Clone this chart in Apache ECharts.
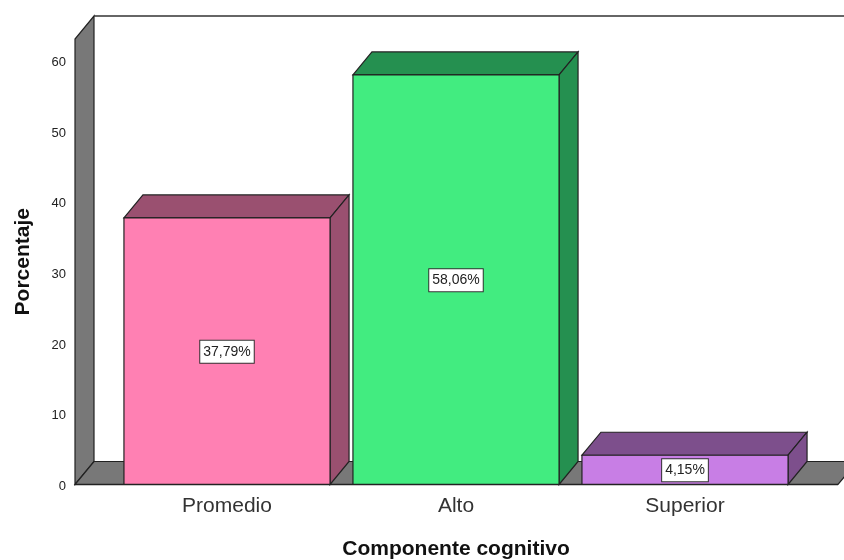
<!DOCTYPE html>
<html>
<head>
<meta charset="utf-8">
<style>html,body{margin:0;padding:0;background:#fff}#c{width:844px;height:560px}</style>
<script src="https://cdn.jsdelivr.net/npm/echarts@6/dist/echarts.min.js"></script>
</head>
<body>
<div id="c"></div>
<script>
const categories = ['Promedio', 'Alto', 'Superior'];
const values = [37.79, 58.06, 4.15];
const labels = ['37,79%', '58,06%', '4,15%'];
const frontColors = ['#ff80b3', '#42ec80', '#c87ee5'];
const shadeColors = ['#9a5070', '#259050', '#7d4f8c'];
const yTicks = { min: 0, max: 63.16, interval: 10 };
const xAxisTitle = 'Componente cognitivo';
const yAxisTitle = 'Porcentaje';

const DX = 19, DY = 23, LEFT_PAD = 37.5, RIGHT_END = 838;
const FONT = '"Liberation Sans", Arial, sans-serif';
const EDGE = '#222';

function poly(points, fill, z2) {
  return { type: 'polygon', z2: z2 || 0, shape: { points: points },
    style: { fill: fill, stroke: EDGE, lineWidth: 1.2 } };
}
function line(x1, y1, x2, y2, stroke, w) {
  return { type: 'line', shape: { x1, y1, x2, y2 }, style: { stroke: stroke || EDGE, lineWidth: w || 1.5 } };
}

function renderBackground(params, api) {
  const cs = params.coordSys;
  const x0 = cs.x - LEFT_PAD, yBase = cs.y + cs.height, yTop = cs.y;
  return { type: 'group', children: [
    poly([[x0, yBase], [x0 + DX, yBase - DY], [x0 + DX, yTop - DY], [x0, yTop]], '#787878'),
    poly([[x0, yBase], [x0 + DX, yBase - DY], [RIGHT_END + DX, yBase - DY], [RIGHT_END, yBase]], '#787878'),
    line(x0 + DX, yTop - DY, 860, yTop - DY, '#333', 1.6)
  ]};
}

function renderBar(params, api) {
  const i = api.value(0), v = api.value(1);
  const c = api.coord([i, v]), c0 = api.coord([i, 0]);
  const w = api.size([1, 0])[0] * 0.9;
  const l = c[0] - w / 2, r = c[0] + w / 2, t = c[1], b = c0[1];
  const mid = api.coord([i, v / 2]);
  return { type: 'group', children: [
    poly([[l, t], [l + DX, t - DY], [r + DX, t - DY], [r, t]], shadeColors[i]),
    poly([[r, t], [r + DX, t - DY], [r + DX, b - DY], [r, b]], shadeColors[i]),
    poly([[l, t], [r, t], [r, b], [l, b]], frontColors[i]),
    { type: 'text', z2: 10, style: {
        x: mid[0], y: mid[1] + 0.5, text: labels[i], align: 'center', verticalAlign: 'middle',
        font: '14px ' + FONT, fill: '#222', backgroundColor: '#fff',
        borderColor: '#333', borderWidth: 1, padding: [4, 3, 4, 3] } }
  ]};
}

function renderBaseline(params, api) {
  const cs = params.coordSys;
  const yBase = cs.y + cs.height;
  return line(cs.x - LEFT_PAD, yBase, RIGHT_END, yBase, '#222', 1.6);
}

const chart = echarts.init(document.getElementById('c'), null, { renderer: 'canvas' });
chart.setOption({
  animation: false,
  backgroundColor: '#fff',
  grid: { left: 112.5, width: 687, top: 39, height: 445.5, containLabel: false, outerBoundsMode: 'none' },
  xAxis: {
    type: 'category', data: categories,
    axisLine: { show: false }, axisTick: { show: false },
    axisLabel: { fontFamily: FONT, fontSize: 21, color: '#333', margin: 11 },
    name: xAxisTitle, nameLocation: 'middle', nameGap: 54,
    nameTextStyle: { fontFamily: FONT, fontSize: 21, fontWeight: 'bold', color: '#111' }
  },
  yAxis: {
    type: 'value', min: yTicks.min, max: yTicks.max, interval: yTicks.interval,
    offset: LEFT_PAD, splitLine: { show: false },
    axisLine: { show: false }, axisTick: { show: false },
    axisLabel: { fontFamily: FONT, fontSize: 13, color: '#222', margin: 9, showMaxLabel: false, verticalAlign: 'top', lineHeight: 3 },
    name: yAxisTitle, nameLocation: 'middle', nameGap: 41,
    nameTextStyle: { fontFamily: FONT, fontSize: 21, fontWeight: 'bold', color: '#111' }
  },
  series: [
    { type: 'custom', z: 1, silent: true, renderItem: renderBackground, data: [0], clip: false },
    { type: 'custom', z: 2, silent: true, renderItem: renderBar, clip: false,
      encode: { x: 0, y: 1 },
      data: values.map((v, i) => [i, v]) },
    { type: 'custom', z: 3, silent: true, renderItem: renderBaseline, data: [0], clip: false }
  ]
});
</script>
</body>
</html>
